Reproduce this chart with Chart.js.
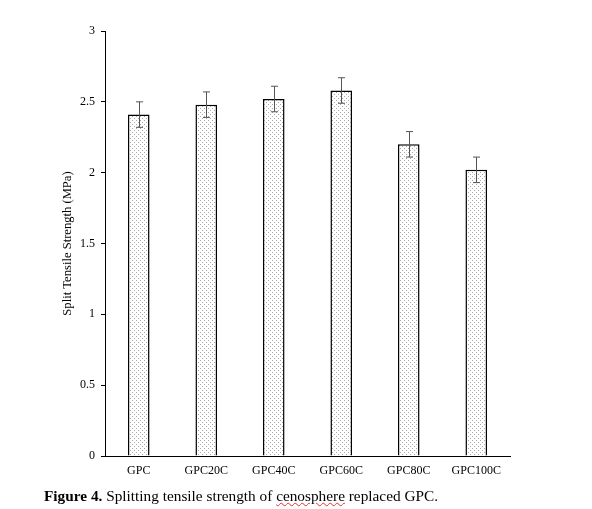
<!DOCTYPE html>
<html>
<head>
<meta charset="utf-8">
<script src="https://cdn.jsdelivr.net/npm/chart.js@4"></script>
<style>
  body { margin: 0; background: #fff; }
  #wrap { position: relative; width: 592px; height: 509px; }
  #caption {
    position: absolute; left: 44px; top: 487px;
    font-family: "Liberation Serif", "Times New Roman", serif;
    font-size: 15.3px; color: #000; white-space: nowrap;
  }
  .spell { text-decoration: underline wavy #d33; text-decoration-thickness: 1px; }
</style>
</head>
<body>
<div id="wrap">
  <canvas id="grafico" width="592" height="509"></canvas>
  <div id="caption"><b>Figure 4.</b> Splitting tensile strength of <span class="spell">cenosphere</span> replaced GPC.</div>
</div>
<script>
// DADOS
const categorias = ["GPC", "GPC20C", "GPC40C", "GPC60C", "GPC80C", "GPC100C"];
const resistencia = [2.41, 2.48, 2.52, 2.58, 2.20, 2.02];
const erro = [0.09, 0.09, 0.09, 0.09, 0.09, 0.09];
const ticksY = [0, 0.5, 1, 1.5, 2, 2.5, 3];

// PADRÃO PONTILHADO DAS BARRAS
function padraoPontos() {
  const c = document.createElement("canvas");
  c.width = 4;
  c.height = 4;
  const ctx = c.getContext("2d");
  ctx.fillStyle = "#fff";
  ctx.fillRect(0, 0, 4, 4);
  ctx.fillStyle = "#a8a8a8";
  ctx.fillRect(0, 0, 1, 1);
  ctx.fillRect(2, 2, 1, 1);
  return document.getElementById("grafico").getContext("2d").createPattern(c, "repeat");
}

// BARRAS DE ERRO
const barrasErro = {
  id: "barrasErro",
  afterDatasetsDraw(chart) {
    const ctx = chart.ctx;
    const meta = chart.getDatasetMeta(0);
    const y = chart.scales.y;
    ctx.save();
    ctx.strokeStyle = "#555";
    ctx.lineWidth = 1;
    meta.data.forEach((bar, i) => {
      const x = Math.round(bar.x) + 0.5;
      const yTop = y.getPixelForValue(resistencia[i] + erro[i]);
      const yBot = y.getPixelForValue(resistencia[i] - erro[i]);
      ctx.beginPath();
      ctx.moveTo(x, yTop);
      ctx.lineTo(x, yBot);
      ctx.moveTo(x - 3.5, yTop);
      ctx.lineTo(x + 3.5, yTop);
      ctx.moveTo(x - 3.5, yBot);
      ctx.lineTo(x + 3.5, yBot);
      ctx.stroke();
    });
    ctx.restore();
  },
};

const fonteSerif = { family: "'Liberation Serif', 'Times New Roman', serif", size: 12 };

let config = {
  type: "bar",
  data: {
    labels: [...categorias],
    datasets: [
      {
        label: "Split Tensile Strength",
        data: [...resistencia],
        backgroundColor: padraoPontos(),
        borderColor: "#000",
        borderWidth: 1.5,
        borderSkipped: "bottom",
        categoryPercentage: 1,
        barPercentage: 0.32,
      },
    ],
  },
  options: {
    responsive: false,
    animation: false,
    layout: { padding: { left: 55, right: 82, top: 31, bottom: 28 } },
    plugins: { legend: { display: false }, tooltip: { enabled: false } },
    scales: {
      x: {
        grid: { display: false },
        border: { display: true, color: "#000", width: 1 },
        ticks: { color: "#000", font: fonteSerif, padding: 0, maxRotation: 0 },
        afterFit: (s) => { s.height = 25; },
      },
      y: {
        min: 0,
        max: 3,
        afterBuildTicks: (s) => { s.ticks = ticksY.map((v) => ({ value: v })); },
        grid: { drawOnChartArea: false, drawTicks: true, tickLength: 4, color: "#000" },
        border: { display: true, color: "#000", width: 1 },
        ticks: { color: "#000", font: fonteSerif, padding: 6, callback: (v) => String(v) },
        title: {
          display: true,
          text: "Split Tensile Strength (MPa)",
          color: "#000",
          font: { family: fonteSerif.family, size: 12.6 },
          padding: { top: 5, bottom: 0 },
        },
        afterFit: (s) => { s.width = 50; },
      },
    },
  },
  plugins: [barrasErro],
};

let grafico = new Chart(document.getElementById("grafico"), config);
</script>
</body>
</html>
